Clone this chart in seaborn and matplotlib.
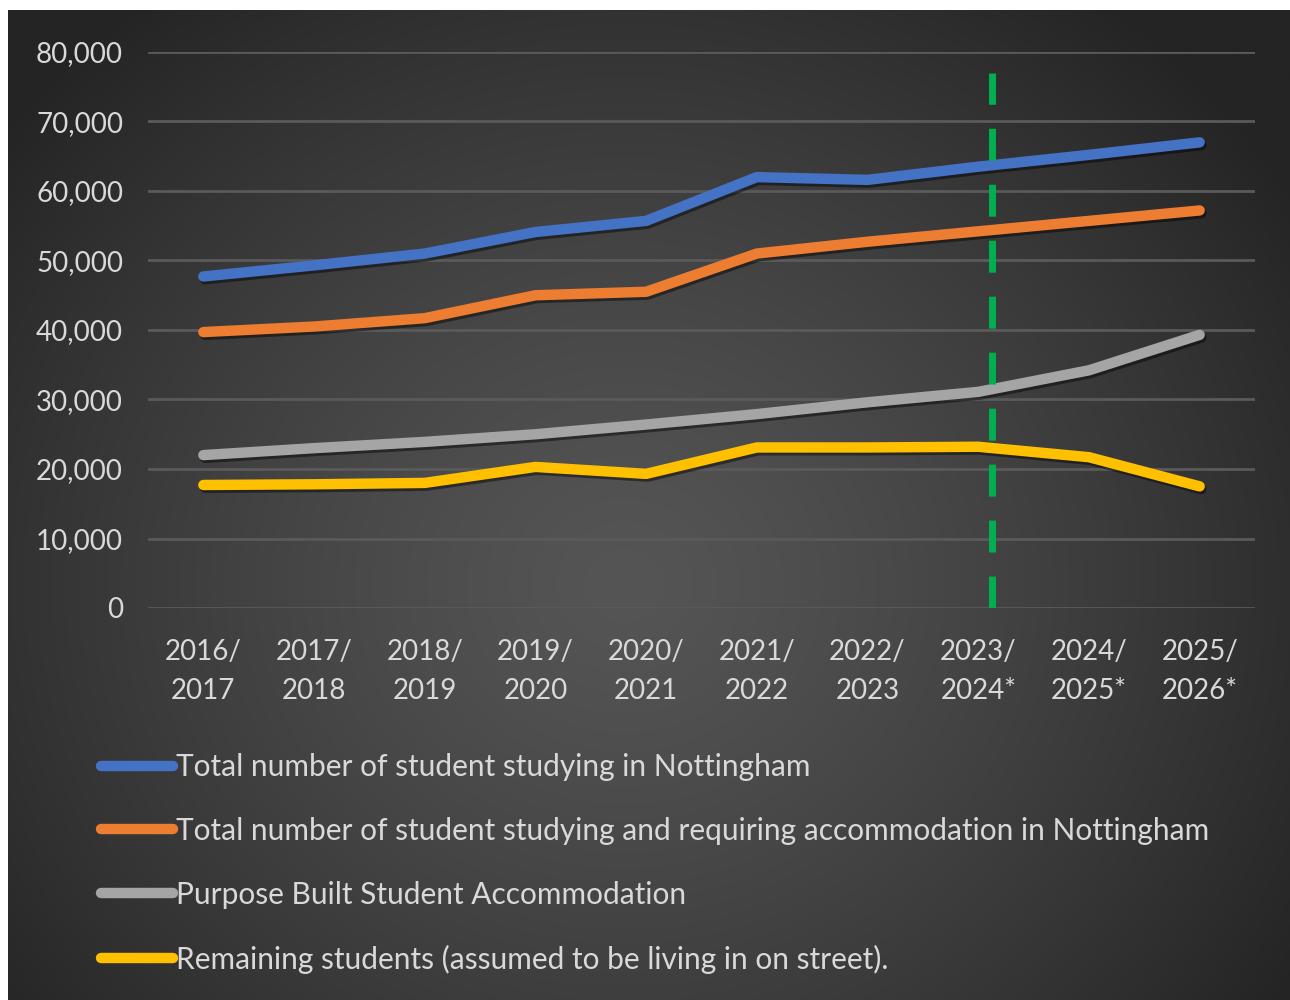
import numpy as np
import pandas as pd
import matplotlib
matplotlib.use("Agg")
import matplotlib.pyplot as plt
import matplotlib.patheffects as pe
from matplotlib.lines import Line2D
import seaborn as sns

# Academic years (asterisk marks projected years)
years = ["2016/\n2017", "2017/\n2018", "2018/\n2019", "2019/\n2020", "2020/\n2021",
         "2021/\n2022", "2022/\n2023", "2023/\n2024*", "2024/\n2025*", "2025/\n2026*"]

total_students = [47700, 49300, 51000, 54100, 55700, 62000, 61600, 63500, 65200, 67000]
requiring_accommodation = [39700, 40500, 41700, 45000, 45500, 51000, 52700, 54200, 55700, 57200]
pbsa_beds = [22000, 23000, 23900, 25000, 26400, 27900, 29600, 31100, 34200, 39300]
remaining_students = [17700, 17800, 18000, 20300, 19300, 23100, 23100, 23200, 21700, 17500]

series_names = [
    "Total number of student studying in Nottingham",
    "Total number of student studying and requiring accommodation in Nottingham",
    "Purpose Built Student Accommodation",
    "Remaining students (assumed to be living in on street).",
]
series_values = [total_students, requiring_accommodation, pbsa_beds, remaining_students]
series_colors = ["#4472C4", "#ED7D31", "#A5A5A5", "#FFC000"]

y_ticks = [0, 10000, 20000, 30000, 40000, 50000, 60000, 70000, 80000]
forecast_marker_x = 7.12  # boundary between actual and projected years
forecast_marker_top = 77000

df = pd.DataFrame({
    "year": years * len(series_names),
    "students": sum(series_values, []),
    "series": np.repeat(series_names, len(years)),
})

sns.set_theme(style="dark")
plt.rcParams["font.family"] = ["Lato", "DejaVu Sans"]
text_color = "#D9D9D9"

fig = plt.figure(figsize=(12.9, 10), dpi=100, facecolor="white")

# Dark radial-gradient panel behind the chart
bg_ax = fig.add_axes([8 / 1290, 0, 1282 / 1290, 990 / 1000])
h, w = 400, 520
yy, xx = np.mgrid[0:h, 0:w]
cx, cy = w * 0.48, h * 0.58
r = np.sqrt(((xx - cx) / (w * 0.62)) ** 2 + ((yy - cy) / (h * 0.75)) ** 2)
r = np.clip(r, 0, 1)
inner, outer = 0x55, 0x24
gray = (inner + (outer - inner) * r ** 1.3) / 255.0
bg_ax.imshow(np.dstack([gray, gray, gray]), aspect="auto", interpolation="bilinear")
bg_ax.set_axis_off()

ax = fig.add_axes([148 / 1290, 0.392, 1107 / 1290, 0.556])
ax.set_facecolor("none")

sns.lineplot(data=df, x="year", y="students", hue="series", hue_order=series_names,
             palette=series_colors, linewidth=7.5, sort=False, ax=ax, legend=False)

shadow = [pe.SimpleLineShadow(offset=(1.2, -2.0), shadow_color="black", alpha=0.45),
          pe.Normal()]
for line in ax.get_lines():
    line.set_solid_capstyle("round")
    line.set_solid_joinstyle("round")
    line.set_path_effects(shadow)
    line.set_zorder(3)

ax.vlines(forecast_marker_x, 0, forecast_marker_top, colors="#00B050",
          linewidth=5, linestyles=(0, (4.6, 3.46)), zorder=4)

ax.set_xlim(-0.5, len(years) - 0.5)
ax.set_ylim(0, 80000)
ax.set_yticks(y_ticks)
ax.set_yticklabels([f"{v:,}" for v in y_ticks])
ax.set_xlabel("")
ax.set_ylabel("")
ax.grid(axis="y", color="#5A5A5A", linewidth=2)
ax.grid(axis="x", visible=False)
for s in ax.spines.values():
    s.set_visible(False)
ax.tick_params(axis="y", length=0, pad=18, labelsize=20, labelcolor=text_color)
ax.tick_params(axis="x", length=0, pad=22, labelsize=20, labelcolor=text_color)
for lbl in ax.get_xticklabels():
    lbl.set_linespacing(1.65)

handles = [Line2D([0], [0], color=c, linewidth=7.5, solid_capstyle="round")
           for c in series_colors]
leg = fig.legend(handles, series_names, loc="upper left",
                 bbox_to_anchor=(101 / 1290, 1 - 753 / 1000),
                 frameon=False, fontsize=21.5, handlelength=2.4, handletextpad=0.1,
                 labelspacing=1.2, borderaxespad=0, borderpad=0)
for t in leg.get_texts():
    t.set_color(text_color)

fig.savefig("out.png", dpi=100, facecolor="white")
